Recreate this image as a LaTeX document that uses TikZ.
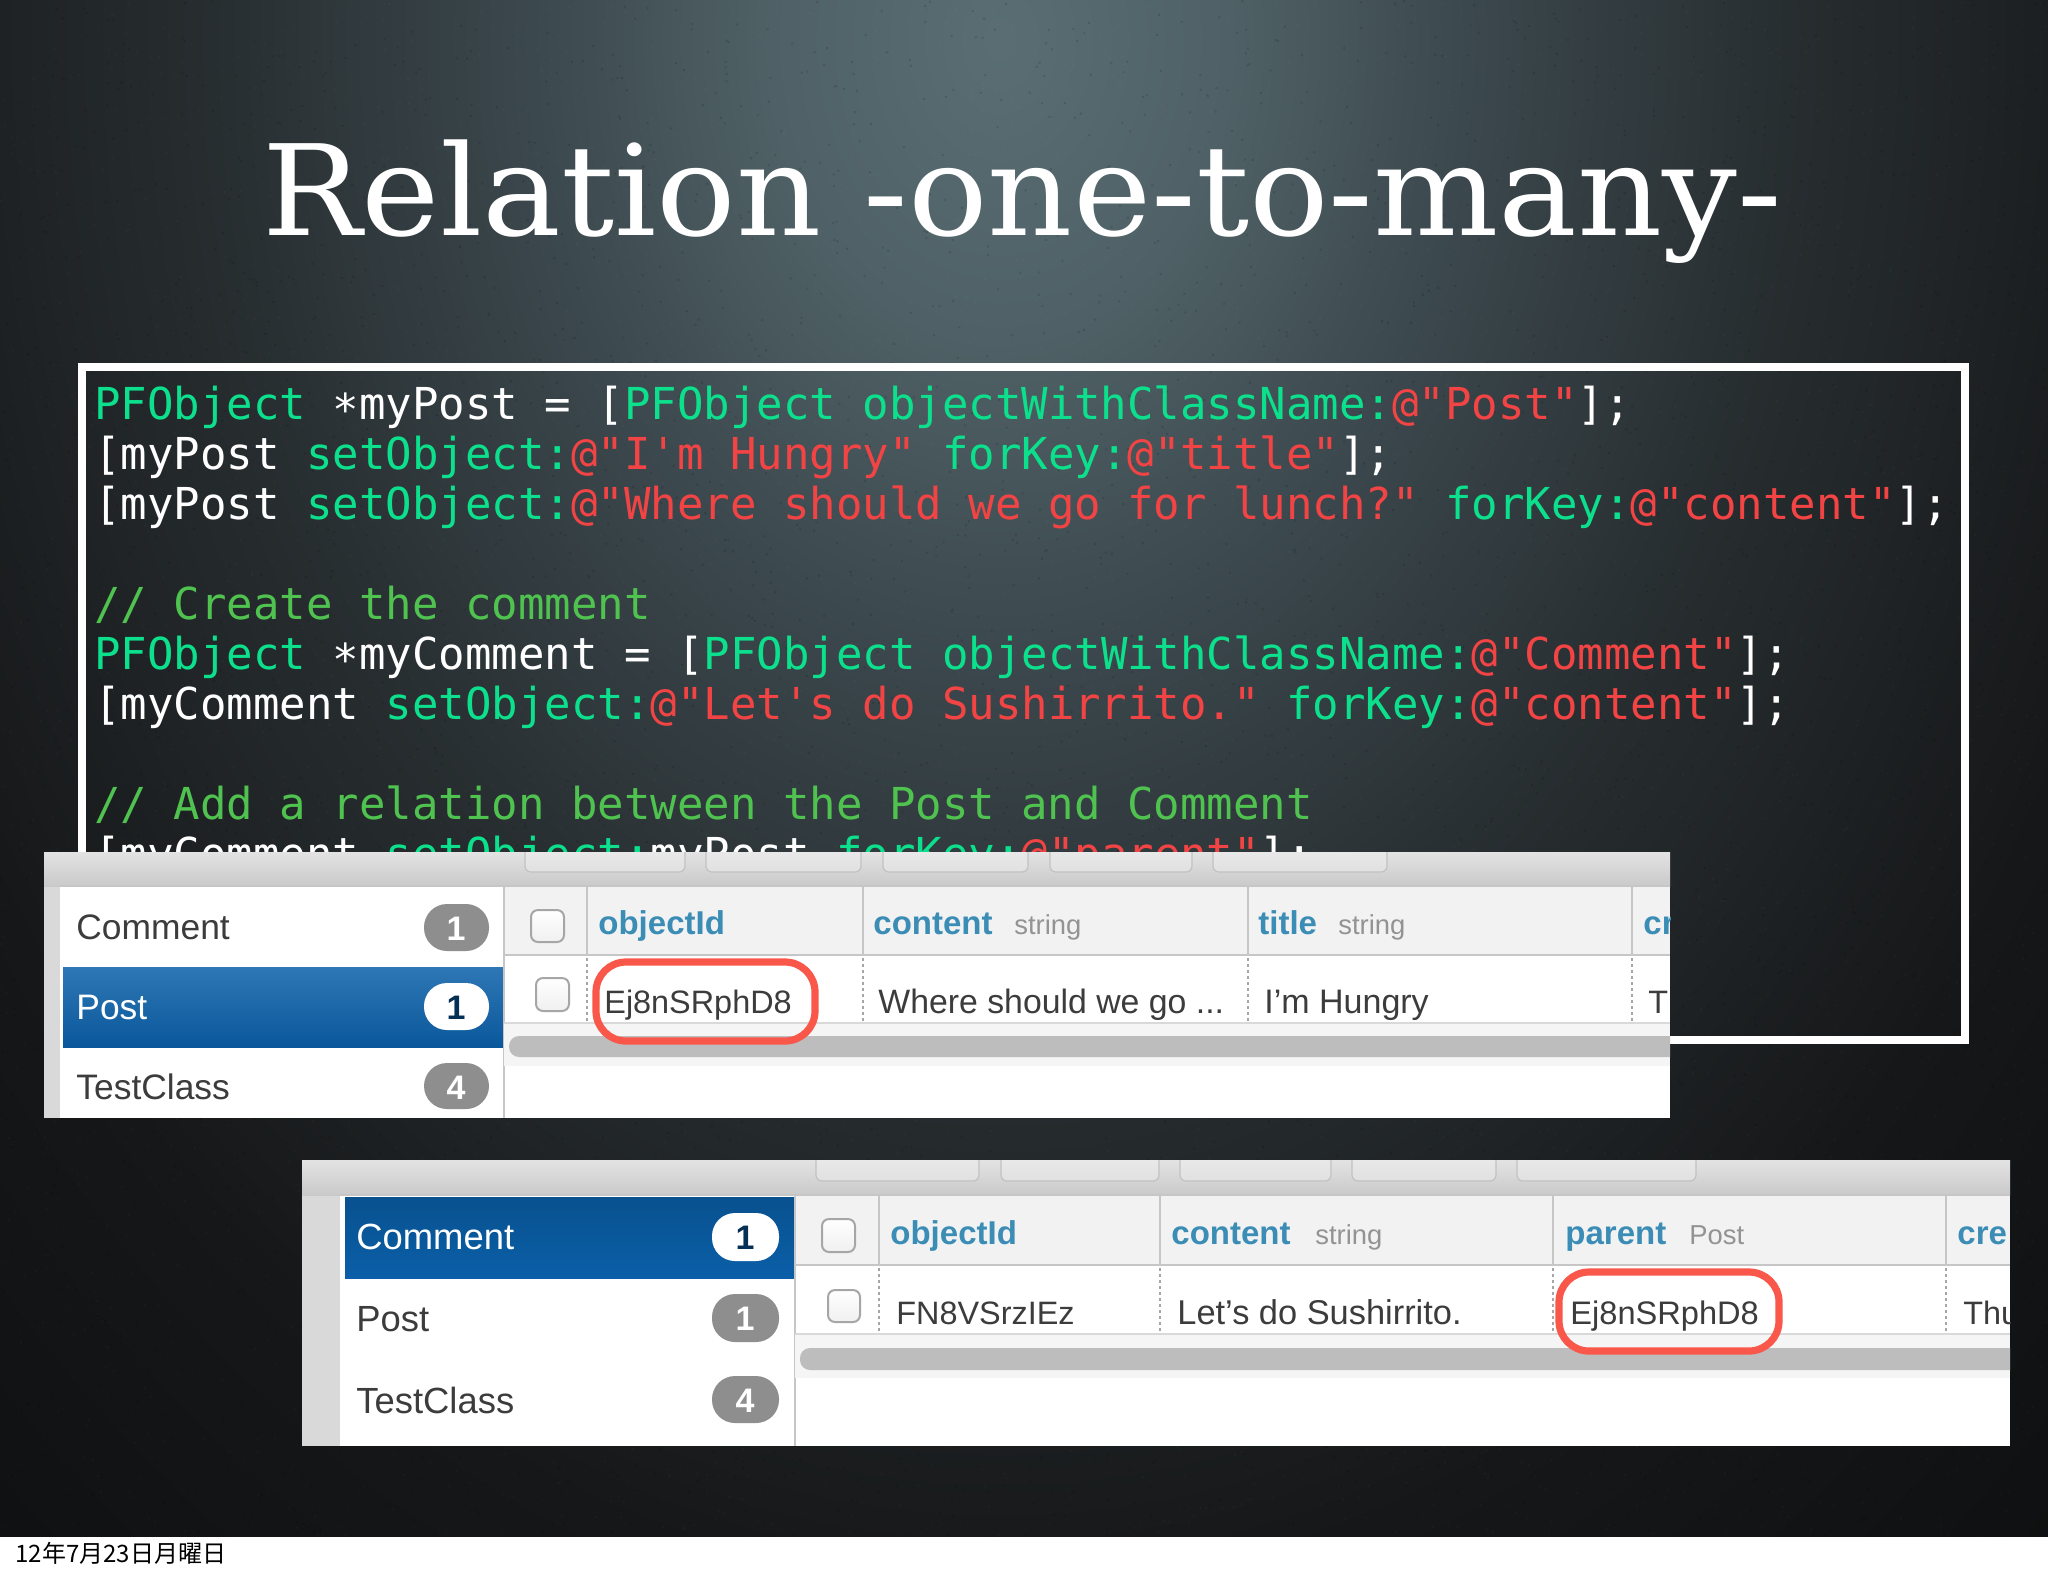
\documentclass[tikz,border=0pt]{standalone}
\usepackage{fontspec}
\usepackage{graphicx}
\setmainfont{Liberation Sans}
\newfontfamily\codefont{DejaVu Sans Mono}
\newfontfamily\titlefont{DejaVu Serif}
\newfontfamily\cjkfont{Noto Sans CJK JP}
\usetikzlibrary{calc}
\definecolor{slideedge}{rgb}{.055,.06,.063}
\definecolor{codegreen}{HTML}{0CE08C}
\definecolor{codered}{HTML}{F24444}
\definecolor{codecomment}{HTML}{4FC24F}
\definecolor{hdrblue}{HTML}{3B8DB5}
\definecolor{selblue}{HTML}{0A5FA8}
\definecolor{marker}{HTML}{F9574A}
\definecolor{badgegrey}{HTML}{8E8E8E}
\definecolor{tabletext}{HTML}{3C3C3C}
\pgfdeclareradialshading{slideglow}{\pgfpoint{0bp}{0bp}}{%
 rgb(0bp)=(.35,.43,.45);
 rgb(2.5bp)=(.31,.38,.40);
 rgb(5bp)=(.235,.285,.305);
 rgb(8.5bp)=(.155,.18,.19);
 rgb(13bp)=(.085,.09,.095);
 rgb(17.5bp)=(.055,.06,.063);
 rgb(50bp)=(.055,.06,.063)}
\newcommand{\gc}[1]{\textcolor{codegreen}{#1}}
\newcommand{\rc}[1]{\textcolor{codered}{#1}}
\newcommand{\lowstar}{\raisebox{-0.13em}{*}}
\tikzset{
 code/.style={anchor=base west,inner sep=0pt,font=\codefont\fontsize{22}{22}\selectfont,text=white},
 tbl/.style={anchor=base west,inner sep=0pt,font=\fontsize{16.2}{16}\selectfont,text=tabletext},
 side/.style={anchor=base west,inner sep=0pt,font=\fontsize{17.7}{17.5}\selectfont,text=tabletext},
 sidesel/.style={side,text=white},
 hdr/.style={anchor=base west,inner sep=0pt,font=\bfseries\fontsize{16.5}{16.5}\selectfont,text=hdrblue},
 typ/.style={anchor=base west,inner sep=0pt,font=\fontsize{13.7}{13}\selectfont,text=gray!85},
 badge/.style={fill=badgegrey,rounded corners=11.5pt},
 badgeon/.style={fill=white,rounded corners=11.5pt},
 badgetext/.style={inner sep=0pt,font=\bfseries\fontsize{17}{17}\selectfont,text=white},
 badgetexton/.style={badgetext,text=selblue!50!black},
 tick/.style={draw=gray!70,line width=1pt,fill=white,rounded corners=3.5pt,bottom color=gray!12,top color=white},
 redmark/.style={draw=marker,line width=3.6pt,rounded corners=15pt},
 toolbar/.style={top color=gray!22,bottom color=gray!42},
 toolbtn/.style={top color=gray!14,bottom color=gray!24,draw=gray!48,line width=.6pt,rounded corners=3pt},
 hairline/.style={draw=gray!45,line width=.8pt},
 rowline/.style={draw=gray!30,line width=1.3pt},
 dotrule/.style={draw=gray!70,line width=.6pt,dash pattern=on 1.5pt off 1.5pt},
 scrollbar/.style={fill=gray!52,rounded corners=5pt},
 framebox/.style={draw=white,line width=4pt}
}
\begin{document}
\begin{tikzpicture}[x=0.5pt,y=-0.5pt]
\useasboundingbox (0,0) rectangle (2048,1576);
% slide
\fill[white] (0,0) rectangle (2048,1576);
\begin{scope}
\clip (0,0) rectangle (2048,1536);
\fill[slideedge] (0,0) rectangle (2048,1536);
\shade[shading=slideglow] (1000,40) ellipse [x radius=2300,y radius=3000];
\pgfmathsetseed{7}
\fill[white,opacity=.025] foreach \i in {1,...,4000} {
 ({rnd*2048},{rnd*1536}) rectangle +(2,2)};
\fill[black,opacity=.12] foreach \i in {1,...,4000} {
 ({rnd*2048},{rnd*1536}) rectangle +(2,2)};
\end{scope}
% title
\node[anchor=base west,inner sep=0pt,text=white] (title) at (262,235)
 {\resizebox{760pt}{\height}{\titlefont\fontsize{63}{63}\selectfont Relation -one-to-many-}};
% code frame
\draw[framebox] (82,367) rectangle (1965,1040);
\node[code] (c1) at (94,419.5) {\gc{PFObject} \lowstar{}myPost = [\gc{PFObject objectWithClassName:}\rc{@"Post"}];};
\node[code] (c2) at (94,469.5) {[myPost \gc{setObject:}\rc{@"I'm Hungry"} \gc{forKey:}\rc{@"title"}];};
\node[code] (c3) at (94,519.5) {[myPost \gc{setObject:}\rc{@"Where should we go for lunch?"} \gc{forKey:}\rc{@"content"}];};
\node[code,text=codecomment] (c4) at (94,619.5) {// Create the comment};
\node[code] (c5) at (94,669.5) {\gc{PFObject} \lowstar{}myComment = [\gc{PFObject objectWithClassName:}\rc{@"Comment"}];};
\node[code] (c6) at (94,719.5) {[myComment \gc{setObject:}\rc{@"Let's do Sushirrito."} \gc{forKey:}\rc{@"content"}];};
\node[code,text=codecomment] (c7) at (94,819.5) {// Add a relation between the Post and Comment};
\node[code] (c8) at (94,869.5) {[myComment \gc{setObject:}myPost \gc{forKey:}\rc{@"parent"}];};
% ---------- panel 1
\begin{scope}
\clip (44,852) rectangle (1670,1118);
\fill[white] (44,852) rectangle (1670,1118);
\fill[gray!30] (44,852) rectangle (60,1118);
\shade[toolbar] (44,852) rectangle (1670,886);
\foreach \a/\b in {525/685,706/861,883/1028,1050/1192,1213/1387}
 \path[toolbtn] (\a,840) rectangle (\b,872);
\draw[hairline,line width=1.2pt] (60,886) -- (1670,886);
\fill[gray!10] (504,887) rectangle (1670,954);
\shade[top color=selblue!85!white,bottom color=selblue!92!black] (63,967) rectangle (503,1047);
\draw[hairline] (504,886) -- (504,1118);
\draw[hairline,line width=1.2pt] (504,955) -- (1670,955);
\foreach \x in {587,863,1248,1632} {
 \draw[hairline] (\x,887) -- (\x,954);
 \draw[dotrule] (\x,958) -- (\x,1023);
}
\fill[gray!8] (504,1024) rectangle (1670,1066);
\draw[rowline] (504,1023) -- (1670,1023);
\path[scrollbar] (509,1036) rectangle (1690,1057);
\path[tick] (531,910) rectangle (564,942);
\path[tick] (536,978) rectangle (569,1011);
\node[side] (p1side1) at (76,939) {Comment};
\node[sidesel] (p1side2) at (76,1019) {Post};
\node[side] (p1side3) at (76,1099) {TestClass};
\path[badge] (424,904) rectangle (489,951);
\path[badgeon] (424,983) rectangle (489,1030);
\path[badge] (424,1063) rectangle (489,1109);
\node[badgetext] (p1b1) at (456,929) {1};
\node[badgetexton] (p1b2) at (456,1008) {1};
\node[badgetext] (p1b3) at (456,1088) {4};
\node[hdr] (p1h1) at (598,934) {objectId};
\node[hdr] (p1h2) at (873,934) {content};
\node[typ] (p1t2) at (1014,934) {string};
\node[hdr] (p1h3) at (1258,934) {title};
\node[typ] (p1t3) at (1338,934) {string};
\node[hdr] (p1h4) at (1643,934) {cr};
\node[tbl] (p1v1) at (604,1013) {Ej8nSRphD8};
\node[tbl,font=\fontsize{16.9}{16}\selectfont] (p1v2) at (878,1013) {Where should we go ...};
\node[tbl,font=\fontsize{17}{16}\selectfont] (p1v3) at (1264,1013) {I'm Hungry};
\node[tbl] (p1v4) at (1648,1013) {T};
\draw[redmark] (596,962) rectangle (815,1041);
\end{scope}
% ---------- panel 2
\begin{scope}
\clip (302,1160) rectangle (2010,1446);
\fill[white] (302,1160) rectangle (2010,1446);
\fill[gray!30] (302,1160) rectangle (340,1446);
\shade[toolbar] (302,1160) rectangle (2010,1195);
\foreach \a/\b in {816/979,1001/1159,1180/1331,1352/1496,1517/1696}
 \path[toolbtn] (\a,1148) rectangle (\b,1181);
\draw[hairline,line width=1.2pt] (340,1195) -- (2010,1195);
\fill[gray!10] (795,1196) rectangle (2010,1264);
\shade[top color=selblue!85!black,bottom color=selblue] (345,1197) rectangle (794,1278);
\draw[hairline] (795,1195) -- (795,1446);
\draw[hairline,line width=1.2pt] (795,1265) -- (2010,1265);
\foreach \x in {879,1160,1553,1946} {
 \draw[hairline] (\x,1196) -- (\x,1264);
 \draw[dotrule] (\x,1268) -- (\x,1334);
}
\fill[gray!8] (795,1335) rectangle (2010,1378);
\draw[rowline] (795,1334) -- (2010,1334);
\path[scrollbar] (800,1348) rectangle (2030,1370);
\path[tick] (822,1219) rectangle (855,1252);
\path[tick] (828,1290) rectangle (860,1322);
\node[sidesel,font=\fontsize{18.2}{18}\selectfont] (p2side1) at (356,1249) {Comment};
\node[side,font=\fontsize{18.2}{18}\selectfont] (p2side2) at (356,1331) {Post};
\node[side,font=\fontsize{18.2}{18}\selectfont] (p2side3) at (356,1413) {TestClass};
\path[badgeon] (712,1213) rectangle (779,1261);
\path[badge] (712,1294) rectangle (779,1342);
\path[badge] (712,1376) rectangle (779,1423);
\node[badgetexton] (p2b1) at (745,1238) {1};
\node[badgetext] (p2b2) at (745,1319) {1};
\node[badgetext] (p2b3) at (745,1401) {4};
\node[hdr] (p2h1) at (890,1244) {objectId};
\node[hdr] (p2h2) at (1171,1244) {content};
\node[typ] (p2t2) at (1315,1244) {string};
\node[hdr] (p2h3) at (1565,1244) {parent};
\node[typ] (p2t3) at (1689,1244) {Post};
\node[hdr] (p2h4) at (1957,1244) {cre};
\node[tbl] (p2v1) at (896,1324) {FN8VSrzIEz};
\node[tbl,font=\fontsize{17.2}{16}\selectfont] (p2v2) at (1177,1324) {Let's do Sushirrito.};
\node[tbl,font=\fontsize{16.3}{16}\selectfont] (p2v3) at (1570,1324) {Ej8nSRphD8};
\node[tbl] (p2v4) at (1963,1324) {Thu};
\draw[redmark] (1559,1272) rectangle (1779,1351);
\end{scope}
% footer
\node[anchor=base west,inner sep=0pt,text=black,font=\cjkfont\fontsize{12}{12}\selectfont] (stamp) at (15,1562) {12年7月23日月曜日};
\end{tikzpicture}
\end{document}
